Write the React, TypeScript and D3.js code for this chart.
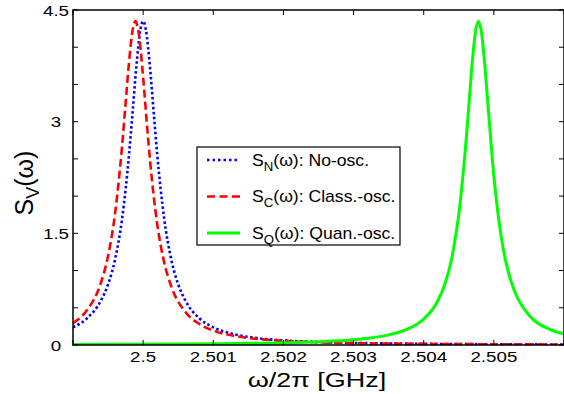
import React from 'react';
import * as d3 from 'd3';

// frequency (GHz) and spectral density
const freqN = [2.499, 2.4992, 2.4994, 2.4995, 2.4996, 2.4997, 2.4998, 2.49985, 2.4999, 2.49996, 2.5, 2.50004, 2.5001, 2.50015, 2.5002, 2.5003, 2.5004, 2.5005, 2.5006, 2.5008, 2.501, 2.5013, 2.5016, 2.502, 2.5025, 2.503, 2.504, 2.505, 2.506];
const valN = [0.237, 0.359, 0.6, 0.815, 1.151, 1.698, 2.568, 3.13, 3.707, 4.23, 4.35, 4.23, 3.707, 3.13, 2.568, 1.698, 1.151, 0.815, 0.6, 0.359, 0.237, 0.144, 0.096, 0.062, 0.04, 0.028, 0.016, 0.01, 0.007];

const freqC = [2.499, 2.4992, 2.4994, 2.4995, 2.4996, 2.4997, 2.49975, 2.4998, 2.49985, 2.49989, 2.49993, 2.5, 2.50005, 2.5001, 2.5002, 2.5003, 2.5004, 2.5006, 2.5008, 2.501, 2.5013, 2.5016, 2.502, 2.5025, 2.503, 2.504, 2.505, 2.506];
const valC = [0.295, 0.469, 0.841, 1.195, 1.768, 2.674, 3.246, 3.81, 4.23, 4.35, 4.23, 3.595, 3.012, 2.463, 1.63, 1.11, 0.789, 0.446, 0.283, 0.194, 0.123, 0.084, 0.056, 0.036, 0.026, 0.015, 0.01, 0.007];

const freqQ = [2.499, 2.5, 2.501, 2.502, 2.5025, 2.503, 2.5035, 2.5038, 2.504, 2.5042, 2.5043, 2.5044, 2.5045, 2.5046, 2.50465, 2.5047, 2.50474, 2.50478, 2.50482, 2.50486, 2.5049, 2.505, 2.5051, 2.5052, 2.5053, 2.5055, 2.5058, 2.506];
const valQ = [0.007, 0.01, 0.016, 0.03, 0.044, 0.071, 0.136, 0.227, 0.348, 0.591, 0.812, 1.166, 1.753, 2.698, 3.3, 3.88, 4.22, 4.35, 4.22, 3.88, 3.42, 2.272, 1.482, 1.003, 0.712, 0.403, 0.21, 0.149];

const xTicks = [2.499, 2.5, 2.501, 2.502, 2.503, 2.504, 2.505, 2.506];
const xLabels = ['', '2.5', '2.501', '2.502', '2.503', '2.504', '2.505', ''];
const yTicks = [0, 0.5, 1, 1.5, 2, 2.5, 3, 3.5, 4, 4.5];
const yLabeled = [0, 1.5, 3, 4.5];

const legendItems = [
  { sub: 'N', text: '(ω): No-osc.', color: '#0000ff', dash: '2.5,3' },
  { sub: 'C', text: '(ω): Class.-osc.', color: '#ff0000', dash: '8,4.5' },
  { sub: 'Q', text: '(ω): Quan.-osc.', color: '#00ff00', dash: null },
];

const W = 564;
const H = 394;
const left = 73, right = 564, top = 10, bottom = 345;
const font = "'Liberation Sans', Arial, Helvetica, sans-serif";

export default function App() {
  const x = d3.scaleLinear().domain([2.499, 2.506]).range([left, right]);
  const y = d3.scaleLinear().domain([0, 4.5]).range([bottom, top]);

  const line = d3.line<[number, number]>()
    .x(d => x(d[0]))
    .y(d => y(d[1]))
    .curve(d3.curveMonotoneX);

  const series = [
    { f: freqN, v: valN, color: '#0000ff', dash: '2.5,2.5', w: 2.6 },
    { f: freqC, v: valC, color: '#ff0000', dash: '8,4', w: 2.6 },
    { f: freqQ, v: valQ, color: '#00ff00', dash: null, w: 3 },
  ];

  const tl = 5;

  return (
    <svg width={W} height={H} style={{ position: 'absolute', left: 0, top: 0, background: '#fff' }} fontFamily={font}>
      <defs>
        <clipPath id="plot">
          <rect x={left} y={top} width={right - left} height={bottom - top} />
        </clipPath>
      </defs>
      <rect x={0} y={0} width={W} height={H} fill="#fff" />

      <g clipPath="url(#plot)">
        {series.map((s, i) => (
          <path
            key={i}
            d={line(s.f.map((f, j) => [f, s.v[j]] as [number, number])) || ''}
            fill="none"
            stroke={s.color}
            strokeWidth={s.w}
            strokeDasharray={s.dash || undefined}
          />
        ))}
      </g>

      {/* frame */}
      <rect x={left} y={top} width={right - left} height={bottom - top} fill="none" stroke="#000" strokeWidth={1.5} />

      {/* x ticks */}
      {xTicks.map((t, i) => (
        <g key={'xt' + i}>
          <line x1={x(t)} x2={x(t)} y1={bottom} y2={bottom - tl} stroke="#000" strokeWidth={1} />
          <line x1={x(t)} x2={x(t)} y1={top} y2={top + tl} stroke="#000" strokeWidth={1} />
          {xLabels[i] && (
            <g transform={`translate(${x(t)},${bottom + 17}) scale(1.25,1)`}>
              <text textAnchor="middle" fontSize={15} fill="#000">{xLabels[i]}</text>
            </g>
          )}
        </g>
      ))}

      {/* y ticks */}
      {yTicks.map((t, i) => (
        <g key={'yt' + i}>
          <line x1={left} x2={left + tl} y1={y(t)} y2={y(t)} stroke="#000" strokeWidth={1} />
          <line x1={right - tl} x2={right} y1={y(t)} y2={y(t)} stroke="#000" strokeWidth={1} />
          {yLabeled.includes(t) && (
            <g transform={`translate(56,${y(t) + 5.5}) scale(1.25,1)`}>
              <text textAnchor="middle" fontSize={15} fill="#000">{String(t)}</text>
            </g>
          )}
        </g>
      ))}

      {/* axis titles */}
      <g transform={`translate(317,387) scale(1.35,1)`}>
        <text textAnchor="middle" fontSize={20} fill="#000">ω/2π [GHz]</text>
      </g>
      <g transform={`translate(33,183) rotate(-90)`}>
        <text textAnchor="middle" fontSize={25} fill="#000">
          S<tspan fontSize={18} dy={6}>V</tspan><tspan dy={-6}>(ω)</tspan>
        </text>
      </g>

      {/* legend */}
      <g transform="translate(197,147)">
        <rect x={0} y={0} width={203} height={98} fill="#fff" stroke="#000" strokeWidth={1.2} />
        {legendItems.map((it, i) => (
          <g key={it.sub} transform={`translate(0,${13 + i * 36.5})`}>
            <line x1={10} x2={43} y1={0} y2={0} stroke={it.color} strokeWidth={it.dash ? 2.6 : 3} strokeDasharray={it.dash || undefined} />
            <g transform="translate(55,5.5) scale(1.1,1)">
              <text x={0} y={0} fontSize={16} fill="#000">
                S<tspan fontSize={12} dy={5}>{it.sub}</tspan><tspan dy={-5}>{it.text}</tspan>
              </text>
            </g>
          </g>
        ))}
      </g>
    </svg>
  );
}
